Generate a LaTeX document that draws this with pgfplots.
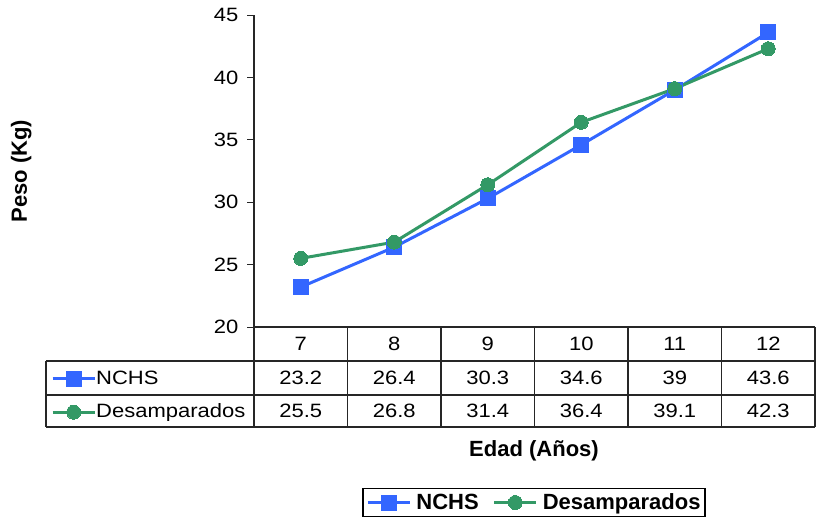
\documentclass[border=0pt]{standalone}
\usepackage{fontspec}
\setmainfont{Liberation Sans}[FakeStretch=1.14]
\newfontfamily\boldfam{Liberation Sans}
\usepackage{pgfplots}
\usepackage{pgfplotstable}
\pgfplotsset{compat=1.18}

\definecolor{nchsblue}{RGB}{51,102,255}
\definecolor{desgreen}{RGB}{51,153,102}

\newcommand{\regfont}{\fontsize{19.3}{21}\selectfont}
\newcommand{\titfont}{\boldfam\bfseries\fontsize{22}{24}\selectfont}

\pgfplotstableread{
edad nchs desamp
7  23.2 25.5
8  26.4 26.8
9  30.3 31.4
10 34.6 36.4
11 39   39.1
12 43.6 42.3
}\datos

\pgfplotsset{
  keyimg/.style={legend image code/.code={
    \draw[mark repeat=2,mark phase=2] plot coordinates {(0pt,0pt) (21pt,0pt) (42pt,0pt)};}},
  nchs/.style={color=nchsblue, line width=3pt, mark=square*, mark size=7.5pt,
    mark options={line width=0pt}},
  desamp/.style={color=desgreen, line width=3pt, mark=*, mark size=7pt,
    mark options={line width=0pt}},
}

\begin{document}
\begin{tikzpicture}[x=1pt,y=1pt]
\useasboundingbox (0,0) rectangle (817,-523);

\begin{axis}[
  at={(254pt,-327pt)}, anchor=south west,
  scale only axis, width=561pt, height=312pt,
  xmin=6.5, xmax=12.5, ymin=20, ymax=45,
  ytick={20,25,...,45}, xtick=\empty,
  axis y line*=left, axis x line*=bottom,
  axis line style={line width=1.2pt, black!85},
  tick align=outside, major tick length=7pt,
  tick style={line width=1pt, black!85},
  /pgf/number format/assume math mode=true,
  tick label style={font=\regfont},
  yticklabel style={xshift=-5pt},
  ylabel={Peso (Kg)},
  ylabel style={at={(axis description cs:-0.415,0.5)}, anchor=center, font=\titfont},
  xlabel={Edad (Años)},
  xlabel style={at={(axis description cs:0.4991,-0.397)}, anchor=center, font=\titfont},
  clip=false,
  keyimg,
  legend columns=2,
  legend style={at={(axis description cs:0.4991,-0.5625)}, anchor=center,
    draw=black, line width=1.2pt, font=\titfont, inner xsep=3.5pt, inner ysep=4pt,
    /tikz/every odd column/.append style={column sep=4pt},
    /tikz/every even column/.append style={column sep=13pt},
    nodes={inner sep=1pt}},
]
\addplot[nchs] table[x=edad, y=nchs] {\datos};
\addlegendentry{NCHS}
\addplot[desamp] table[x=edad, y=desamp] {\datos};
\addlegendentry{Desamparados}
\end{axis}

% row keys of the data table
\begin{axis}[
  at={(46pt,-361pt)}, anchor=north west,
  scale only axis, width=10pt, height=10pt, hide axis,
  xmin=0, xmax=1, ymin=0, ymax=1,
  keyimg,
  legend cell align=left,
  legend style={at={(axis description cs:0,1)}, anchor=north west,
    draw=none, fill=none, inner sep=0pt, xshift=5pt, yshift=-10pt,
    font=\regfont, row sep=18.5pt,
    nodes={inner sep=0pt, text height=13pt, text depth=2pt}},
]
\addlegendimage{nchs}
\addlegendentry{NCHS}
\addlegendimage{desamp}
\addlegendentry{Desamparados}
\end{axis}

% data table grid
\begin{scope}[line width=1.2pt, black!85]
  \draw (254,-327) -- (815,-327);
  \draw (46,-361) -- (815,-361);
  \draw (46,-395) -- (815,-395);
  \draw (46,-427) -- (815,-427);
  \draw (46,-361) -- (46,-427);
  \foreach \i in {0,...,6} {\draw ({254+93.5*\i},-327) -- ({254+93.5*\i},-427);}
\end{scope}

% data table values
\pgfplotstableforeachcolumnelement{edad}\of\datos\as\cell{%
  \node[font=\regfont] at ({254+93.5*(\pgfplotstablerow+0.5)},-344) {\cell};}
\pgfplotstableforeachcolumnelement{nchs}\of\datos\as\cell{%
  \node[font=\regfont] at ({254+93.5*(\pgfplotstablerow+0.5)},-378) {\cell};}
\pgfplotstableforeachcolumnelement{desamp}\of\datos\as\cell{%
  \node[font=\regfont] at ({254+93.5*(\pgfplotstablerow+0.5)},-411) {\cell};}
\end{tikzpicture}
\end{document}
